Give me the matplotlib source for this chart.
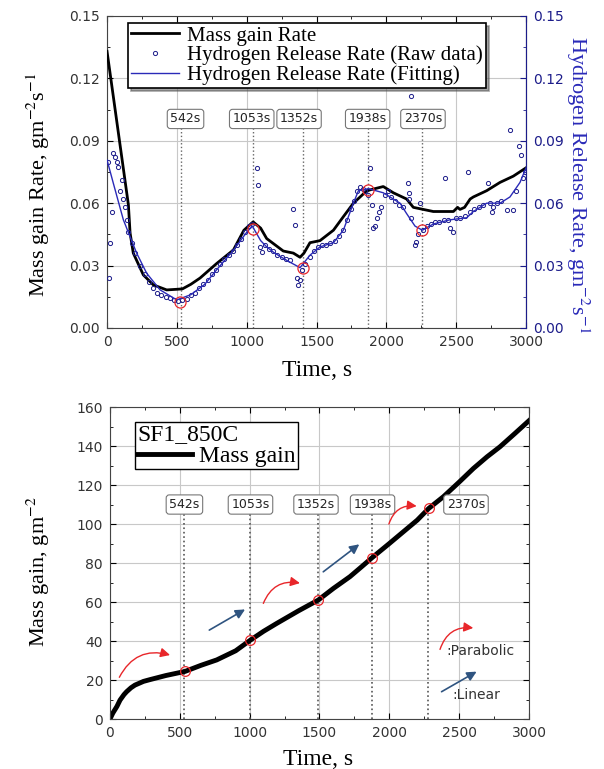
import matplotlib
matplotlib.use("Agg")
import matplotlib.pyplot as plt
from matplotlib.ticker import MultipleLocator, FormatStrFormatter

plt.rcParams['mathtext.fontset'] = 'stix'
SERIF = 'Liberation Serif'
NAVY = '#1c1c8a'
FIT_BLUE = '#2a2ab8'
RED = '#e8262a'
ARROW_BLUE = '#2f5480'
GRID = '#c8c8c8'

# ---------------- top panel: rates ----------------
# mass gain rate (black)
rate_t = [0, 153, 165, 188, 260, 332, 427, 499, 540, 600, 666, 785, 905, 980,
          1046, 1100, 1143, 1262, 1334, 1382, 1410, 1453, 1525, 1621, 1692, 1764,
          1860, 1978, 2050, 2145, 2193, 2336, 2480, 2510, 2527, 2560, 2600, 2623,
          2718, 2814, 2909, 3000]
rate_v = [0.133, 0.0592, 0.0457, 0.036, 0.0255, 0.0207, 0.0183, 0.0186, 0.0188,
          0.021, 0.024, 0.031, 0.0375, 0.047, 0.051, 0.048, 0.043, 0.037, 0.036,
          0.034, 0.036, 0.041, 0.042, 0.047, 0.0535, 0.060, 0.066, 0.068, 0.065,
          0.062, 0.058, 0.056, 0.056, 0.058, 0.057, 0.058, 0.062, 0.063, 0.066,
          0.070, 0.073, 0.077]

# hydrogen release rate, fitting (blue line)
fit_t = [0, 45, 117, 165, 212, 284, 380, 499, 600, 700, 785, 900, 1000, 1040, 1100,
         1143, 1200, 1300, 1382, 1453, 1525, 1621, 1692, 1764, 1800, 1871, 1978,
         2050, 2098, 2145, 2205, 2258, 2336, 2455, 2575, 2623, 2718, 2814, 2885,
         2957, 3000]
fit_v = [0.0808, 0.0696, 0.052, 0.0439, 0.036, 0.0263, 0.0183, 0.0135, 0.016, 0.021,
         0.028, 0.037, 0.046, 0.049, 0.042, 0.039, 0.036, 0.032, 0.029, 0.035,
         0.039, 0.041, 0.047, 0.060, 0.066, 0.067, 0.065, 0.062, 0.060, 0.055,
         0.049, 0.047, 0.050, 0.052, 0.053, 0.056, 0.060, 0.060, 0.063, 0.070, 0.077]

# hydrogen release rate, raw data (open circles)
raw_t = [10, 17, 24, 33, 45, 57, 69, 81, 93, 105, 117, 129, 141, 153, 177, 201, 236,
         270, 300, 330, 360, 390, 420, 450, 480, 510, 540, 570, 600, 630, 660, 690,
         720, 750, 780, 810, 840, 870, 900, 930, 960, 990, 1020, 1035, 1072, 1083,
         1095, 1107, 1130, 1160, 1190, 1220, 1250, 1280, 1310, 1334, 1346, 1360,
         1367, 1380, 1395, 1420, 1450, 1480, 1510, 1540, 1570, 1600, 1630, 1660,
         1690, 1720, 1750, 1770, 1790, 1810, 1830, 1850, 1870, 1883, 1895, 1907,
         1920, 1935, 1950, 1965, 1990, 2010, 2030, 2060, 2090, 2120, 2157, 2160,
         2165, 2180, 2177, 2205, 2210, 2225, 2241, 2260, 2290, 2320, 2350, 2380,
         2410, 2420, 2440, 2455, 2479, 2500, 2530, 2560, 2586, 2600, 2630, 2660,
         2690, 2730, 2740, 2753, 2766, 2790, 2820, 2861, 2885, 2909, 2930, 2952,
         2964, 2975, 2990]
raw_v = [0.080, 0.024, 0.041, 0.056, 0.084, 0.082, 0.080, 0.0776, 0.066, 0.071,
         0.062, 0.058, 0.052, 0.046, 0.041, 0.036, 0.030, 0.026, 0.022, 0.019,
         0.017, 0.016, 0.015, 0.0145, 0.0135, 0.013, 0.0135, 0.014, 0.016, 0.017,
         0.019, 0.021, 0.023, 0.026, 0.028, 0.031, 0.033, 0.035, 0.037, 0.040,
         0.043, 0.046, 0.049, 0.050, 0.0768, 0.0688, 0.039, 0.0367, 0.040, 0.038,
         0.037, 0.035, 0.034, 0.033, 0.0327, 0.057, 0.0495, 0.024, 0.0207, 0.023,
         0.028, 0.031, 0.034, 0.037, 0.039, 0.040, 0.040, 0.041, 0.042, 0.044,
         0.047, 0.052, 0.057, 0.061, 0.066, 0.068, 0.067, 0.066, 0.064, 0.0768,
         0.059, 0.048, 0.049, 0.053, 0.056, 0.058, 0.064, 0.066, 0.063, 0.061,
         0.059, 0.058, 0.0696, 0.0648, 0.062, 0.053, 0.1113, 0.040, 0.0415, 0.045,
         0.060, 0.047, 0.049, 0.050, 0.051, 0.051, 0.052, 0.072, 0.052, 0.048,
         0.046, 0.053, 0.053, 0.054, 0.0752, 0.056, 0.057, 0.058, 0.059, 0.0696,
         0.060, 0.056, 0.0584, 0.060, 0.061, 0.0568, 0.0953, 0.0568, 0.066, 0.0877,
         0.0832, 0.072, 0.075]

# marked minima / maxima (red circles)
mark_t = [523, 1048, 1406, 1871, 2258]
mark_v = [0.0127, 0.0476, 0.0287, 0.0664, 0.0471]

# boxed time labels and their guide lines
box_labels = ['542s', '1053s', '1352s', '1938s', '2370s']
top_line_t = [528, 1043, 1400, 1869, 2255]
top_box_t = [562, 1036, 1375, 1866, 2262]

# ---------------- bottom panel: mass gain ----------------
mass_t = [0, 20, 50, 72, 100, 119, 150, 179, 240, 286, 400, 537, 650, 764, 900, 1002,
          1100, 1193, 1350, 1491, 1600, 1718, 1800, 1876, 2000, 2100, 2200, 2282,
          2387, 2500, 2602, 2700, 2792, 2900, 3000]
mass_v = [0, 3, 6.5, 9.7, 12.5, 14, 16, 17.4, 19.3, 20.2, 22.3, 24.4, 27.5, 30.3,
          35, 40.3, 45, 49, 55.5, 61, 67, 73, 78, 82.7, 90, 96, 102, 108, 114,
          121.5, 128.5, 134.5, 139.6, 146.5, 153]

mass_mark_t = [537, 1002, 1490, 1876, 2282]
mass_mark_v = [24.4, 40.3, 61, 82.7, 108]

bot_line_t = [528, 1002, 1491, 1878, 2279]
bot_box_t = [533, 1006, 1475, 1880, 2549]

# arrows: (start, end) in data units
red_arrows = [((67, 21.4), (430, 32.8)), ((1098, 59.3), (1360, 69.7)),
              ((1997, 100), (2196, 109.2)), ((2363, 35.7), (2601, 46.7))]
blue_arrows = [((711, 45.6), (967, 56.2)), ((1527, 75.5), (1785, 89.6)),
               ((2374, 14), (2625, 24.3))]


def style_axis(ax):
    ax.set_xlim(0, 3000)
    ax.xaxis.set_major_locator(MultipleLocator(500))
    ax.xaxis.set_minor_locator(MultipleLocator(250))
    ax.grid(True, which='major', color=GRID, lw=0.8)
    ax.set_axisbelow(True)
    ax.tick_params(which='both', direction='in', top=True, labelsize=10,
                   labelcolor='#333333', pad=5)
    ax.tick_params(which='major', length=4)
    ax.tick_params(which='minor', length=2)
    for s in ax.spines.values():
        s.set_color('#444444')


fig = plt.figure(figsize=(6.04, 7.69), dpi=100)

# ---- top ----
ax1 = fig.add_axes([0.1772, 0.5735, 0.6937, 0.4057])
style_axis(ax1)
ax1.set_ylim(0, 0.15)
ax1.yaxis.set_major_locator(MultipleLocator(0.03))
ax1.yaxis.set_minor_locator(MultipleLocator(0.015))
ax1.yaxis.set_major_formatter(FormatStrFormatter('%.2f'))
ax1.tick_params(which='both', right=False)

ax1r = ax1.twinx()
ax1r.set_ylim(0, 0.15)
ax1r.yaxis.set_major_locator(MultipleLocator(0.03))
ax1r.yaxis.set_minor_locator(MultipleLocator(0.015))
ax1r.yaxis.set_major_formatter(FormatStrFormatter('%.2f'))
ax1r.tick_params(which='both', direction='in', colors=NAVY, labelsize=10, pad=5)
ax1r.tick_params(which='major', length=4)
ax1r.tick_params(which='minor', length=2)
ax1r.spines['right'].set_color(NAVY)
for k in ('left', 'top', 'bottom'):
    ax1r.spines[k].set_visible(False)

ax1.vlines(top_line_t, 0, 0.097, colors='#666666', linestyles=':', lw=1.0)
for lab, x in zip(box_labels, top_box_t):
    ax1.text(x, 0.1005, lab, ha='center', va='center', fontsize=9, color='#222222',
             bbox=dict(boxstyle='round,pad=0.25', fc='white', ec='#777777', lw=0.8))

h1, = ax1r.plot(rate_t, rate_v, color='black', lw=2.0, label='Mass gain Rate')
h2, = ax1r.plot(raw_t, raw_v, 'o', ms=3.0, mfc='none', mec=NAVY, mew=0.7,
                label='Hydrogen Release Rate (Raw data)')
h3, = ax1r.plot(fit_t, fit_v, color=FIT_BLUE, lw=1.0,
                label='Hydrogen Release Rate (Fitting)')
ax1r.plot(mark_t, mark_v, 'o', ms=8, mfc='none', mec=RED, mew=0.9)

leg1 = ax1r.legend(handles=[h1, h2, h3], loc='upper left', bbox_to_anchor=(0.05, 0.978),
                   borderaxespad=0, prop={'family': SERIF, 'size': 15}, numpoints=1,
                   fancybox=False, edgecolor='black', framealpha=1, shadow=True,
                   handlelength=2.3, labelspacing=0.0, borderpad=0.15, handletextpad=0.4)
leg1.get_frame().set_linewidth(1.2)

ax1.set_xlabel('Time, s', fontfamily=SERIF, fontsize=17, va='center')
ax1.xaxis.set_label_coords(0.502, -0.135)
ax1.set_ylabel('Mass gain Rate, gm$^{-2}$s$^{-1}$', fontfamily=SERIF, fontsize=16,
               va='center')
ax1.yaxis.set_label_coords(-0.165, 0.458)
ax1r.set_ylabel('Hydrogen Release Rate, gm$^{-2}$s$^{-1}$', fontfamily=SERIF,
                fontsize=16, color=FIT_BLUE, rotation=270, va='center')
ax1r.yaxis.set_label_coords(1.124, 0.458)

# ---- bottom ----
ax2 = fig.add_axes([0.1821, 0.065, 0.6937, 0.4057])
style_axis(ax2)
ax2.set_ylim(0, 160)
ax2.yaxis.set_major_locator(MultipleLocator(20))
ax2.yaxis.set_minor_locator(MultipleLocator(10))
ax2.tick_params(which='both', right=True)

ax2.vlines(bot_line_t, 0, 105, colors='#555555', linestyles=':', lw=1.2)
for lab, x in zip(box_labels, bot_box_t):
    ax2.text(x, 110, lab, ha='center', va='center', fontsize=9, color='#222222',
             bbox=dict(boxstyle='round,pad=0.25', fc='white', ec='#777777', lw=0.8))

ax2.plot(mass_t, mass_v, color='black', lw=3.5, label='Mass gain')
ax2.plot(mass_mark_t, mass_mark_v, 'o', ms=7, mfc='none', mec=RED, mew=0.9)

for (s, e) in red_arrows:
    ax2.annotate('', xy=e, xytext=s,
                 arrowprops=dict(arrowstyle='-|>', color=RED, lw=1.0,
                                 connectionstyle='arc3,rad=-0.4', mutation_scale=14,
                                 shrinkA=0, shrinkB=0))
for (s, e) in blue_arrows:
    ax2.annotate('', xy=e, xytext=s,
                 arrowprops=dict(arrowstyle='-|>', color=ARROW_BLUE, lw=1.2,
                                 mutation_scale=14, shrinkA=0, shrinkB=0))
ax2.text(2410, 35, ':Parabolic', fontsize=10, color='#333333', va='center')
ax2.text(2453, 12.3, ':Linear', fontsize=10, color='#333333', va='center')

leg2 = ax2.legend(title='SF1_850C', loc='upper left', bbox_to_anchor=(0.0597, 0.952),
                  borderaxespad=0, prop={'family': SERIF, 'size': 17},
                  title_fontproperties={'family': SERIF, 'size': 17}, alignment='left',
                  fancybox=False, edgecolor='black', framealpha=1, handlelength=2.3,
                  borderpad=0.1, labelspacing=0.0, handletextpad=0.3)
leg2.get_frame().set_linewidth(1.0)

ax2.set_xlabel('Time, s', fontfamily=SERIF, fontsize=17, va='center')
ax2.xaxis.set_label_coords(0.497, -0.131)
ax2.set_ylabel('Mass gain, gm$^{-2}$', fontfamily=SERIF, fontsize=16, va='center')
ax2.yaxis.set_label_coords(-0.172, 0.474)

fig.savefig('out.png', dpi=100)
